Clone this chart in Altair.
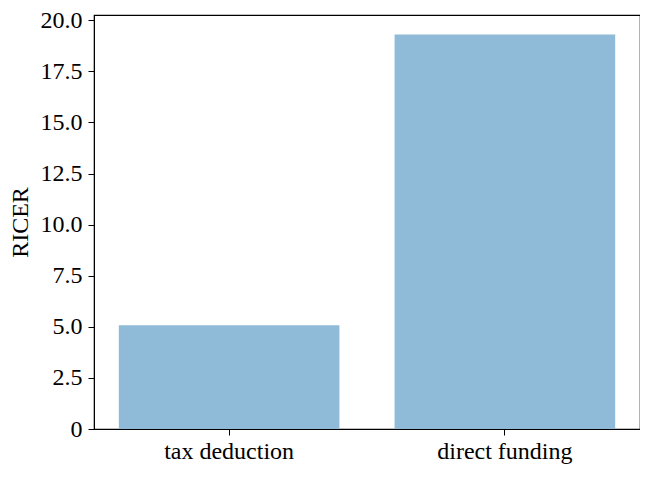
import altair as alt
import pandas as pd

categories = ["tax deduction", "direct funding"]
ricer = [5.08, 19.3]
y_ticks = [0, 2.5, 5.0, 7.5, 10.0, 12.5, 15.0, 17.5, 20.0]

df = pd.DataFrame({"policy": categories, "RICER": ricer})

FONT = "Liberation Serif"

chart = alt.Chart(df).mark_bar(color="#8fbbd9").encode(
    x=alt.X(
        "policy:N",
        sort=categories,
        title=None,
        scale=alt.Scale(paddingInner=0.2, paddingOuter=0.09),
        axis=alt.Axis(
            labelAngle=0,
            labelFont=FONT,
            labelFontSize=24,
            labelColor="black",
            tickSize=6,
            tickColor="black",
            domainColor="black",
            labelPadding=4,
            grid=False,
        ),
    ),
    y=alt.Y(
        "RICER:Q",
        title="RICER",
        scale=alt.Scale(domain=[0, 20.26], nice=False, zero=True),
        axis=alt.Axis(
            values=y_ticks,
            labelExpr="datum.value == 0 ? '0' : format(datum.value, '.1f')",
            labelFont=FONT,
            labelFontSize=24,
            labelColor="black",
            tickSize=6,
            tickColor="black",
            domainColor="black",
            labelPadding=6,
            grid=False,
            titleFont=FONT,
            titleFontSize=24,
            titleFontWeight="normal",
            titleColor="black",
            titlePadding=8,
        ),
    ),
).properties(
    width=546,
    height=414,
    autosize=alt.AutoSizeParams(type="none"),
    padding={"left": 86, "top": 7, "right": 0, "bottom": 36},
).configure_view(
    stroke="black",
    strokeWidth=1.2,
)

chart.save("out.html", embed_options={"renderer": "svg", "actions": False})
